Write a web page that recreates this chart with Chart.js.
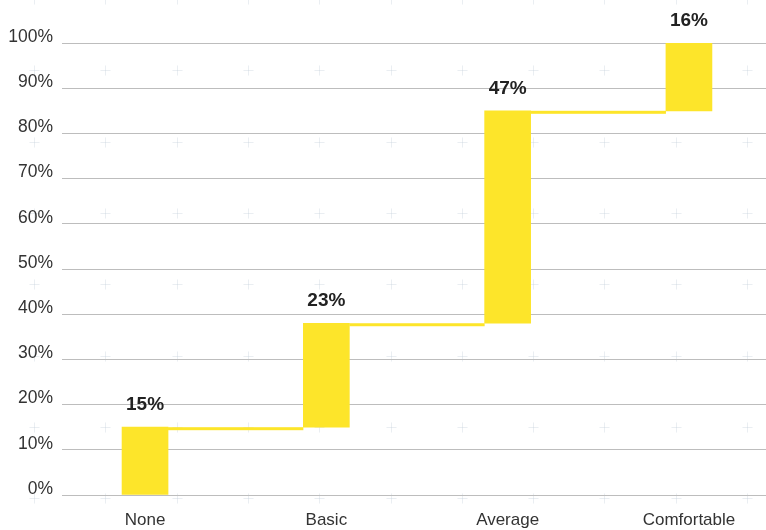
<!DOCTYPE html>
<html>
<head>
<meta charset="utf-8">
<title>Comfort level</title>
<script src="https://cdn.jsdelivr.net/npm/chart.js@4/dist/chart.umd.min.js"></script>
<style>
  html, body { margin: 0; padding: 0; background: #ffffff; }
  #wrap { position: relative; width: 766px; height: 530px; }
</style>
</head>
<body>
<div id="wrap"><canvas id="chart"></canvas></div>
<script>
// Categories and the share of each step (percent)
const categories = ['None', 'Basic', 'Average', 'Comfortable'];
const shares = [15, 23, 47, 16];
const yTicks = [0, 10, 20, 30, 40, 50, 60, 70, 80, 90, 100];

// Each step floats on top of the running total of the previous ones
const steps = [];
let running = 0;
shares.forEach((s, i) => {
  steps.push({ x: i, y: [running, running + s] });
  running += s;
});

const FONT = '"Liberation Sans", Arial, sans-serif';
const YELLOW = '#fde52a';

// Faint "+" tile pattern behind the plot
const backdrop = {
  id: 'backdrop',
  beforeDraw(chart) {
    const ctx = chart.ctx;
    ctx.save();
    ctx.strokeStyle = 'rgba(190,202,216,0.32)';
    ctx.lineWidth = 1;
    for (let y = -1; y < chart.height + 10; y += 71.3) {
      for (let x = 34; x < chart.width + 10; x += 71.3) {
        const px = Math.round(x) + 0.5, py = Math.round(y) + 0.5;
        ctx.beginPath();
        ctx.moveTo(px - 5, py); ctx.lineTo(px + 5, py);
        ctx.moveTo(px, py - 5); ctx.lineTo(px, py + 5);
        ctx.stroke();
      }
    }
    ctx.restore();
  }
};

// Horizontal connectors from the top of one step to the next step
const connectors = {
  id: 'connectors',
  beforeDatasetsDraw(chart) {
    const bars = chart.getDatasetMeta(0).data;
    const ctx = chart.ctx;
    ctx.save();
    ctx.fillStyle = YELLOW;
    for (let i = 0; i < bars.length - 1; i++) {
      const a = bars[i], b = bars[i + 1];
      const x0 = a.x + a.width / 2;
      const x1 = b.x - b.width / 2;
      ctx.fillRect(x0, a.y, x1 - x0, 3);
    }
    ctx.restore();
  }
};

// Percent labels above each step
const stepLabels = {
  id: 'stepLabels',
  afterDatasetsDraw(chart) {
    const bars = chart.getDatasetMeta(0).data;
    const ctx = chart.ctx;
    ctx.save();
    ctx.font = 'bold 19px ' + FONT;
    ctx.fillStyle = '#222222';
    ctx.textAlign = 'center';
    ctx.textBaseline = 'alphabetic';
    bars.forEach((bar, i) => {
      const top = Math.max(bar.y, chart.scales.y.getPixelForValue(100));
      ctx.fillText(shares[i] + '%', bar.x, top - 17);
    });
    ctx.restore();
  }
};

new Chart(document.getElementById('chart'), {
  type: 'bar',
  data: {
    datasets: [{
      data: steps,
      backgroundColor: YELLOW,
      borderWidth: 0,
      barThickness: 46
    }]
  },
  plugins: [backdrop, connectors, stepLabels],
  options: {
    responsive: true,
    maintainAspectRatio: false,
    animation: false,
    layout: { padding: { top: 43, right: 0, bottom: 0, left: 0 } },
    plugins: {
      legend: { display: false },
      tooltip: { enabled: false }
    },
    scales: {
      x: {
        type: 'linear',
        offset: false,
        min: -0.458,
        max: 3.425,
        grid: { display: false, drawTicks: false },
        border: { display: false },
        afterBuildTicks(scale) {
          scale.ticks = categories.map((c, i) => ({ value: i }));
        },
        afterFit(scale) { scale.height = 35; },
        ticks: {
          padding: 15,
          color: '#333333',
          font: { family: FONT, size: 17 },
          callback: (v) => categories[v]
        }
      },
      y: {
        min: 0,
        max: 100,
        afterBuildTicks(scale) {
          scale.ticks = yTicks.map(v => ({ value: v }));
        },
        afterFit(scale) { scale.width = 62; },
        grid: { color: '#bdbdbd', lineWidth: 1, drawTicks: false },
        border: { display: false },
        ticks: {
          padding: 9,
          labelOffset: -6,
          color: '#333333',
          font: { family: FONT, size: 17.5 },
          callback: (v) => v + '%'
        }
      }
    }
  }
});
</script>
</body>
</html>
